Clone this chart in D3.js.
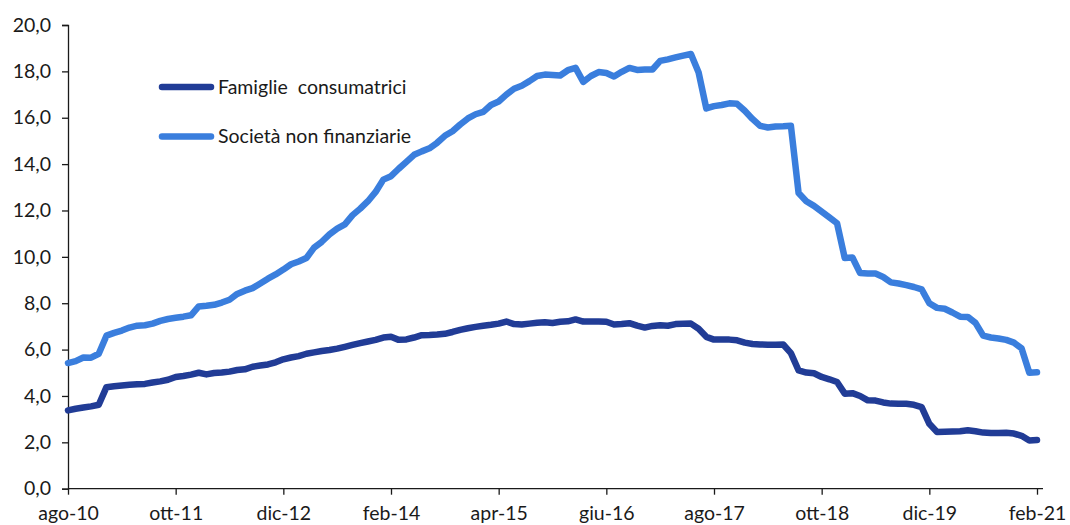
<!DOCTYPE html>
<html>
<head>
<meta charset="utf-8">
<script src="https://cdn.jsdelivr.net/npm/d3@7"></script>
<style>
  html, body { margin: 0; padding: 0; background: #fff; }
  svg { display: block; }
  text { font-family: Lato, "Open Sans", "DejaVu Sans", sans-serif; fill: #1a1a1a; }
</style>
</head>
<body>
<svg id="chart" width="1070" height="525"></svg>
<script>
// Monthly categories: ago-10 ... feb-21
const monthNames = ["gen","feb","mar","apr","mag","giu","lug","ago","set","ott","nov","dic"];
const startYear = 2010, startMonth = 7, nMonths = 127;
const categories = d3.range(nMonths).map(i => {
  const m = startMonth + i;
  return monthNames[m % 12] + "-" + String((startYear + Math.floor(m / 12)) % 100).padStart(2, "0");
});

const tickLabels = ["ago-10","ott-11","dic-12","feb-14","apr-15","giu-16","ago-17","ott-18","dic-19","feb-21"];
const yTicks = [0, 2, 4, 6, 8, 10, 12, 14, 16, 18, 20];

const seriesNames = ["Famiglie  consumatrici", "Società non finanziarie"];

const famiglie = [
  3.38, 3.45, 3.50, 3.55, 3.62, 4.38, 4.42, 4.45, 4.48, 4.50,
  4.52, 4.58, 4.63, 4.70, 4.82, 4.86, 4.92, 5.00, 4.93, 4.99,
  5.01, 5.05, 5.12, 5.15, 5.26, 5.31, 5.36, 5.45, 5.58, 5.66,
  5.72, 5.82, 5.88, 5.94, 5.98, 6.04, 6.12, 6.20, 6.28, 6.35,
  6.42, 6.52, 6.55, 6.42, 6.44, 6.52, 6.62, 6.63, 6.65, 6.68,
  6.76, 6.85, 6.92, 6.98, 7.03, 7.07, 7.12, 7.21, 7.10, 7.08,
  7.12, 7.16, 7.18, 7.15, 7.20, 7.22, 7.30, 7.21, 7.21, 7.21,
  7.20, 7.08, 7.10, 7.14, 7.03, 6.95, 7.02, 7.05, 7.03, 7.10,
  7.11, 7.12, 6.90, 6.55, 6.43, 6.43, 6.43, 6.40, 6.30, 6.24,
  6.22, 6.21, 6.21, 6.22, 5.85, 5.10, 5.01, 4.98, 4.82, 4.72,
  4.60, 4.10, 4.12, 4.00, 3.81, 3.80, 3.72, 3.67, 3.66, 3.66,
  3.62, 3.52, 2.80, 2.45, 2.46, 2.47, 2.48, 2.52, 2.48, 2.42,
  2.40, 2.40, 2.41, 2.38, 2.28, 2.08, 2.10
];

const societa = [
  5.42, 5.50, 5.66, 5.65, 5.82, 6.60, 6.72, 6.82, 6.95, 7.03,
  7.05, 7.12, 7.24, 7.32, 7.37, 7.42, 7.48, 7.86, 7.89, 7.93,
  8.03, 8.15, 8.40, 8.54, 8.65, 8.85, 9.06, 9.24, 9.45, 9.68,
  9.80, 9.95, 10.40, 10.65, 10.97, 11.22, 11.40, 11.80, 12.08, 12.40,
  12.80, 13.33, 13.48, 13.80, 14.10, 14.40, 14.55, 14.68, 14.92, 15.22,
  15.42, 15.71, 15.97, 16.15, 16.25, 16.55, 16.70, 17.00, 17.25, 17.38,
  17.58, 17.80, 17.86, 17.84, 17.82, 18.05, 18.15, 17.55, 17.80, 17.97,
  17.93, 17.78, 17.98, 18.15, 18.06, 18.08, 18.08, 18.45, 18.52, 18.60,
  18.68, 18.75, 17.95, 16.40, 16.50, 16.55, 16.62, 16.60, 16.30, 15.95,
  15.65, 15.58, 15.62, 15.63, 15.65, 12.75, 12.40, 12.20, 11.95, 11.70,
  11.45, 9.95, 9.97, 9.30, 9.28, 9.28, 9.13, 8.90, 8.85, 8.78,
  8.70, 8.60, 8.00, 7.80, 7.76, 7.60, 7.42, 7.41, 7.15, 6.60,
  6.52, 6.48, 6.42, 6.30, 6.05, 5.00, 5.02
];

const colors = ["#213C96", "#3A7EDD"];

const svg = d3.select("#chart");
const margin = { left: 68, right: 33, top: 25, bottom: 36 };
const W = 1070, H = 525;
const fontSize = "19.5px";

const x = d3.scalePoint()
  .domain(categories)
  .range([margin.left, 1037]);

const y = d3.scaleLinear()
  .domain([0, 20])
  .range([H - margin.bottom - 0.3, margin.top]);

// Y axis
const yAxis = d3.axisLeft(y)
  .tickValues(yTicks)
  .tickFormat(d => d3.format(".1f")(d).replace(".", ","))
  .tickSize(6)
  .tickPadding(11);

const gy = svg.append("g")
  .attr("transform", `translate(${margin.left},0)`)
  .call(yAxis);
gy.select(".domain").attr("stroke", "#1a1a1a").attr("stroke-width", 1.3);
gy.selectAll(".tick line").attr("stroke", "#1a1a1a").attr("stroke-width", 1.3);
gy.selectAll(".tick text").style("font-size", fontSize).attr("fill", "#1a1a1a");

// X axis
const xAxis = d3.axisBottom(x)
  .tickValues(tickLabels)
  .tickSizeInner(6)
  .tickSizeOuter(0)
  .tickPadding(11);

const gx = svg.append("g")
  .attr("transform", `translate(0,${y(0)})`)
  .call(xAxis);
gx.select(".domain").remove();
gx.append("line")
  .attr("x1", margin.left).attr("x2", 1043)
  .attr("y1", 0).attr("y2", 0)
  .attr("stroke", "#1a1a1a").attr("stroke-width", 1.3);
gx.selectAll(".tick line").attr("stroke", "#1a1a1a").attr("stroke-width", 1.3);
gx.selectAll(".tick text").style("font-size", fontSize).attr("fill", "#1a1a1a");

// Lines
const line = d3.line()
  .x((d, i) => x(categories[i]))
  .y(d => y(d));

[famiglie, societa].forEach((s, k) => {
  svg.append("path")
    .datum(s)
    .attr("fill", "none")
    .attr("stroke", colors[k])
    .attr("stroke-width", 6.5)
    .attr("stroke-linejoin", "round")
    .attr("stroke-linecap", "round")
    .attr("d", line);
});

// Legend
const legendY = [87, 136.5];
seriesNames.forEach((name, k) => {
  const g = svg.append("g");
  g.append("line")
    .attr("x1", 162).attr("x2", 211)
    .attr("y1", legendY[k]).attr("y2", legendY[k])
    .attr("stroke", colors[k])
    .attr("stroke-width", 6.5)
    .attr("stroke-linecap", "round");
  g.append("text")
    .attr("x", 218)
    .attr("y", legendY[k])
    .attr("dy", "0.35em")
    .style("font-size", fontSize)
    .style("white-space", "pre")
    .attr("xml:space", "preserve")
    .text(name);
});
</script>
</body>
</html>
